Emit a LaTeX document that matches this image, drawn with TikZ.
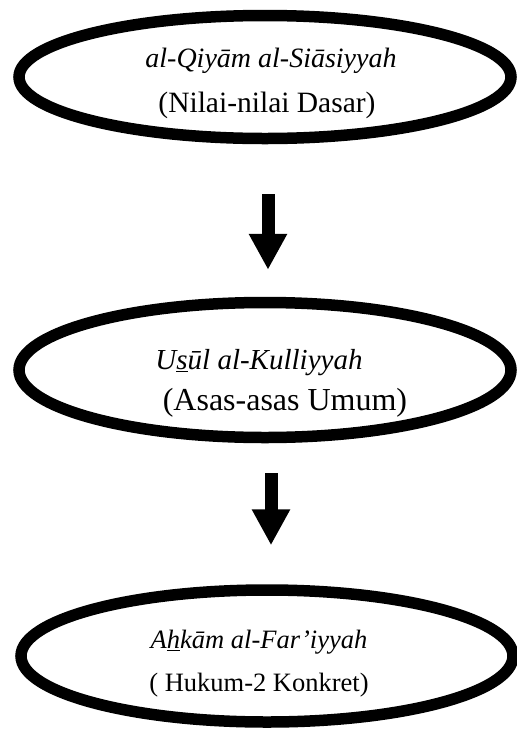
\documentclass[tikz,border=0pt]{standalone}
\usepackage{fontspec}
\setmainfont{Liberation Serif}
\usetikzlibrary{shapes.geometric,arrows.meta}
\newcommand{\sz}[1]{\fontsize{#1}{44}\selectfont}
\begin{document}
\begin{tikzpicture}[
  x=1pt, y=-1pt,
  level/.style={
    ellipse, draw=black, line width=11.5pt, inner sep=0pt,
    minimum width=492pt, align=center, font=\sz{30}
  },
  arrow/.style={-{Triangle[width=36pt,length=36pt]}, line width=13pt, black}
]
\useasboundingbox (0,0) rectangle (517,729);

% Levels (top to bottom)
\node[level, minimum height=123pt] (qiyam) at (265,77)
  {\hspace*{12pt}{\sz{28}\itshape\rule{0pt}{33pt}al-Qiyām al-Siāsiyyah}\\[1pt]
   \hspace*{4pt}{\sz{29.5}(Nilai-nilai Dasar)}};
\node[level, minimum height=135pt] (usul) at (265,370)
  {{\sz{29}\itshape\rule{0pt}{46pt}U\underline{s}ūl al-Kulliyyah}\hspace*{12pt}\\[-3pt]
   \hspace*{40pt}{\sz{32}(Asas-asas Umum)}};
\node[level, minimum height=132pt] (ahkam) at (267,656)
  {{\sz{26.5}\itshape\rule{0pt}{34pt}A\underline{h}kām al-Far’iyyah}\hspace*{16pt}\\[-1pt]
   {\sz{26.5}( Hukum-2 Konkret)}\hspace*{16pt}};

% Arrows
\draw[arrow, shorten <=50pt, shorten >=27pt] (qiyam.south) ++(3,0) coordinate (a1) (a1) -- (a1 |- usul.north);
\draw[arrow, shorten <=30pt, shorten >=39pt] (usul.south) ++(6,0) coordinate (a2) (a2) -- (a2 |- ahkam.north);
\end{tikzpicture}
\end{document}
